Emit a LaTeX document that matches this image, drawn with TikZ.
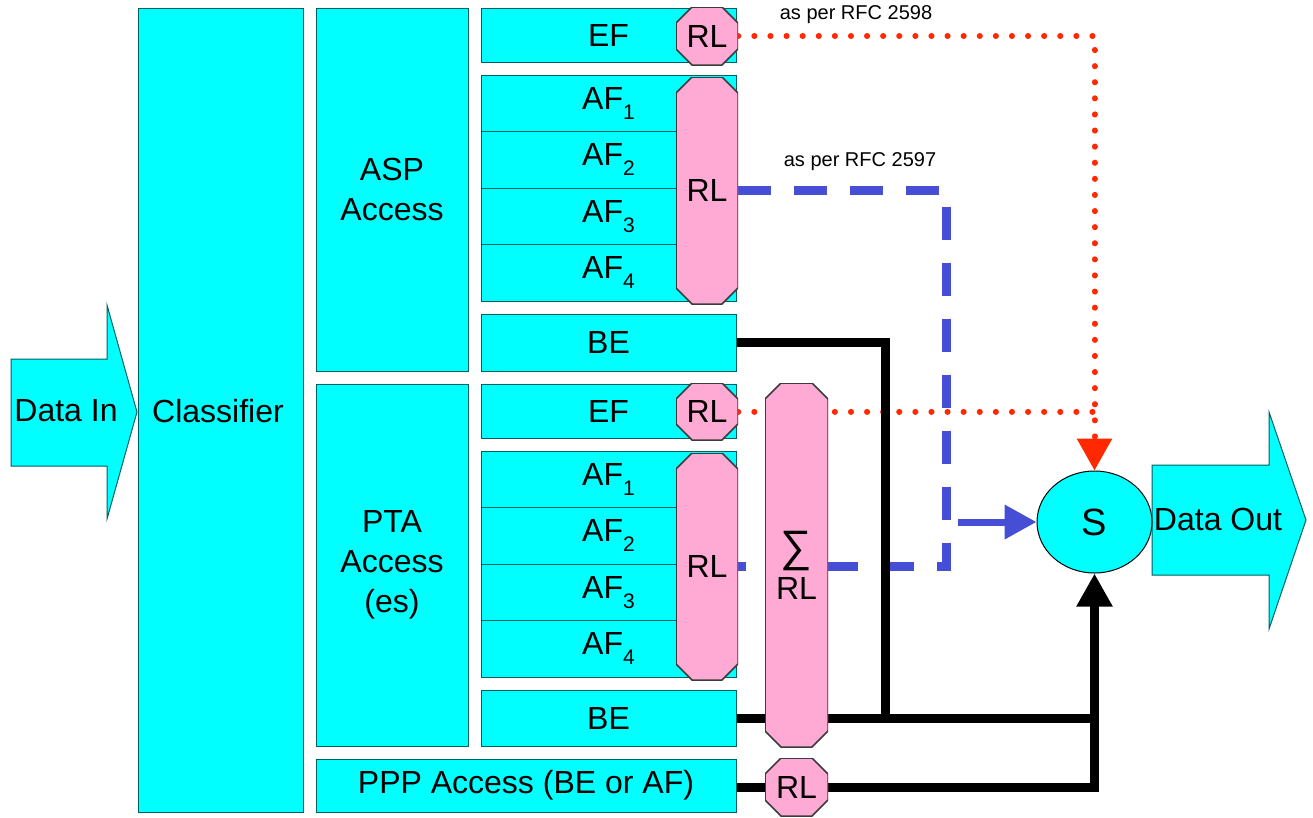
\documentclass[tikz,border=0pt]{standalone}
\usepackage{fontspec}
\setmainfont{Liberation Sans}
\usetikzlibrary{arrows.meta,shapes.geometric}

\definecolor{boxcyan}{RGB}{0,255,255}
\definecolor{boxedge}{RGB}{0,95,95}
\definecolor{rlpink}{RGB}{255,170,212}
\definecolor{rledge}{RGB}{60,60,60}
\definecolor{rfcred}{RGB}{255,40,0}
\definecolor{rfcblue}{RGB}{70,78,214}

\pgfdeclarelayer{lines}
\pgfsetlayers{lines,main}

\newlength\chamf
\setlength\chamf{16pt}
\newcommand\subidx[1]{\raisebox{-0.32em}{\fontsize{21}{21}\selectfont#1}}

\tikzset{
  cbox/.style={draw=boxedge, fill=boxcyan, line width=1pt, inner sep=0pt,
    font=\fontsize{32}{40}\selectfont, align=center},
  cshape/.style={draw=boxedge, fill=boxcyan, line width=1pt, line join=miter},
  plain/.style={inner sep=0pt, font=\fontsize{32}{40}\selectfont, align=center},
  rl/.style={inner sep=0pt, font=\fontsize{32}{38}\selectfont, align=center,
    path picture={
      \path[fill=rlpink, draw=rledge, line width=1.5pt]
        ([xshift=\chamf]path picture bounding box.north west)
        -- ([xshift=-\chamf]path picture bounding box.north east)
        -- ([yshift=-\chamf]path picture bounding box.north east)
        -- ([yshift=\chamf]path picture bounding box.south east)
        -- ([xshift=-\chamf]path picture bounding box.south east)
        -- ([xshift=\chamf]path picture bounding box.south west)
        -- ([yshift=\chamf]path picture bounding box.south west)
        -- ([yshift=-\chamf]path picture bounding box.north west)
        -- cycle;}},
  sched/.style={ellipse, draw=black, fill=boxcyan, line width=1pt, inner sep=0pt,
    minimum width=115pt, minimum height=102pt, font=\fontsize{38}{40}\selectfont},
  lbl/.style={inner sep=0pt, font=\fontsize{20}{22}\selectfont},
  blk/.style={draw=black, line width=9pt},
  reddot/.style={draw=rfcred, line width=6pt, line cap=round, dash pattern=on 0.1pt off 16pt},
  bluedash/.style={draw=rfcblue, line width=9pt, dash pattern=on 33pt off 23pt},
  bluearr/.style={draw=rfcblue, line width=7pt},
}

\begin{document}
\begin{tikzpicture}[x=1pt, y=-1pt]
\useasboundingbox (0,0) rectangle (1313,817);

% input and output arrows
\draw[cshape] (11,359) -- (107,359) -- (107,305) -- (137,412) -- (107,519)
  -- (107,466) -- (11,466) -- cycle;
\node[plain] (din) at (66,411) {Data In};
\draw[cshape] (1152,465) -- (1269,465) -- (1269,412) -- (1306,520) -- (1269,629)
  -- (1269,575) -- (1152,575) -- cycle;

% classifier and access blocks
\node[cbox, minimum width=165pt, minimum height=804pt] (cls) at (220.5,410) {};
\node[plain] at (218,411) {Classifier};
\node[cbox, minimum width=152pt, minimum height=363pt] (asp) at (392,189.5) {ASP\\Access};
\node[cbox, minimum width=152pt, minimum height=362pt] (pta) at (392,565) {PTA\\Access\\(es)};
\node[cbox, minimum width=420pt, minimum height=53pt] (ppp) at (526,785.5) {PPP Access (BE or AF)};

% ASP classes
\node[cbox, minimum width=255pt, minimum height=54pt] (efA) at (608.5,35) {EF};
\node[cbox, minimum width=255pt, minimum height=56.5pt] (afA1) at (608.5,103.25) {AF\subidx{1}};
\node[cbox, minimum width=255pt, minimum height=56.5pt] (afA2) at (608.5,159.75) {AF\subidx{2}};
\node[cbox, minimum width=255pt, minimum height=56.5pt] (afA3) at (608.5,216.25) {AF\subidx{3}};
\node[cbox, minimum width=255pt, minimum height=56.5pt] (afA4) at (608.5,272.75) {AF\subidx{4}};
\node[cbox, minimum width=255pt, minimum height=57pt] (beA) at (608.5,342.5) {BE};

% PTA classes
\node[cbox, minimum width=255pt, minimum height=54pt] (efB) at (608.5,411) {EF};
\node[cbox, minimum width=255pt, minimum height=56.5pt] (afB1) at (608.5,479.25) {AF\subidx{1}};
\node[cbox, minimum width=255pt, minimum height=56.5pt] (afB2) at (608.5,535.75) {AF\subidx{2}};
\node[cbox, minimum width=255pt, minimum height=56.5pt] (afB3) at (608.5,592.25) {AF\subidx{3}};
\node[cbox, minimum width=255pt, minimum height=56.5pt] (afB4) at (608.5,648.75) {AF\subidx{4}};
\node[cbox, minimum width=255pt, minimum height=56pt] (beB) at (608.5,718) {BE};

% rate limiters
\node[rl, minimum width=62pt, minimum height=58pt] (rlA) at (707,36) {RL};
\node[rl, minimum width=62pt, minimum height=227pt] (rlB) at (707,190.5) {RL};
\node[rl, minimum width=62pt, minimum height=57pt] (rlC) at (707,411.5) {RL};
\node[rl, minimum width=62pt, minimum height=227pt] (rlD) at (707,566.5) {RL};
\node[rl, minimum width=63pt, minimum height=364pt] (rlSum) at (796.5,565)
  {{\fontsize{44}{40}\selectfont ∑}\\RL};
\node[rl, minimum width=63pt, minimum height=58pt] (rlE) at (796.5,787) {RL};

% scheduler and output
\node[sched] (S) at (1094.5,522) {S};
\node[plain] (dout) at (1218,519) {Data Out};

% labels
\node[lbl] (rfc2598) at (856,15) {as per RFC 2598};
\node[lbl] (rfc2597) at (860,162) {as per RFC 2597};

% connectors
\coordinate (jblk) at (885,718);
\coordinate (jblue) at (946,566.5);
\coordinate (bstart) at (958,522);
\begin{pgfonlayer}{lines}
  \draw[reddot, -{Triangle[width=34pt,length=32pt]}] (rlA.east) -| (S.north);
  \draw[reddot] (rlC.east) -- (rlC.east -| S.north);
  \draw[bluedash] (rlB.east) -| (jblue) -- (rlD.east);
  \draw[bluearr, -{Triangle[width=33pt,length=32pt]}] (bstart) -- (S.west);
  \draw[blk] (beA.east) -| (jblk);
  \draw[blk] (beB.east) -- (beB.east -| S.south);
  \draw[blk] (rlE.west -| ppp.east) -- (rlE.west);
  \draw[blk, -{Triangle[width=34pt,length=33pt]}] (rlE.east) -| (S.south);
\end{pgfonlayer}
\end{tikzpicture}
\end{document}
